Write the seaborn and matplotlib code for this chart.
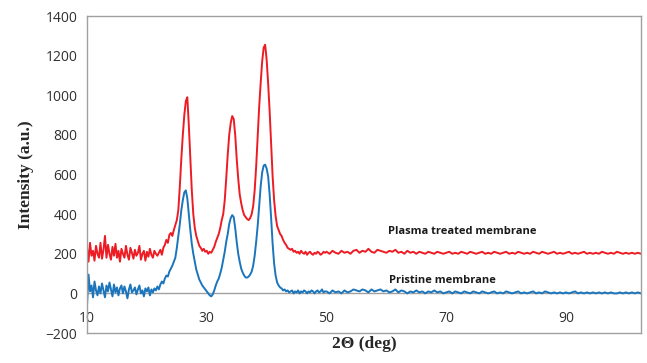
import numpy as np
import pandas as pd
import matplotlib
matplotlib.use("Agg")
import matplotlib.pyplot as plt
import seaborn as sns

# 2-theta grid: fine step over the peak region, coarser over the flat tail
theta_lo = np.linspace(10, 49.75, 160)   # step 0.25
theta_hi = np.linspace(50, 102.5, 106)   # step 0.5

# Plasma treated membrane, 10-50 deg (8 points per 2 deg)
plasma_lo = [
    230, 160, 255, 190, 215, 165, 240, 200,
    180, 255, 175, 220, 290, 180, 245, 200,
    170, 235, 190, 250, 180, 215, 160, 225,
    200, 180, 240, 195, 170, 230, 205, 175,
    220, 190, 205, 240, 170, 200, 215, 165,
    210, 185, 225, 195, 180, 215, 200, 190,
    205, 220, 195, 230, 245, 270, 255, 295,
    305, 290, 320, 345, 370, 420, 540, 680,
    800, 900, 970, 990, 850, 680, 520, 400,
    330, 290, 265, 240, 230, 215, 225, 210,
    215, 200, 210, 205, 220, 235, 260, 280,
    300, 330, 370, 400, 470, 580, 700, 800,
    860, 895, 880, 800, 680, 580, 500, 455,
    420, 395, 385, 375, 370, 380, 400, 440,
    520, 640, 790, 940, 1060, 1170, 1240, 1255,
    1180, 1060, 920, 760, 590, 470, 390, 340,
    320, 300, 290, 270, 255, 245, 230, 225,
    220, 225, 210, 215, 205, 210, 200, 215,
    205, 200, 210, 195, 205, 210, 200, 195,
    205, 200, 210, 205, 195, 200, 210, 205,
]
# Plasma treated membrane, 50-102.5 deg
plasma_hi = [
    210, 200, 215, 205, 200, 215, 205, 210, 200, 215,
    220, 205, 215, 210, 225, 210, 205, 220, 215, 210,
    205, 215, 210, 220, 205, 210, 200, 215, 205, 210,
    200, 210, 205, 200, 210, 205, 200, 210, 205, 200,
    205, 210, 200, 205, 200, 210, 205, 200, 210, 205,
    200, 205, 210, 200, 205, 200, 210, 205, 200, 205,
    210, 200, 205, 200, 210, 205, 200, 205, 200, 210,
    205, 200, 210, 205, 200, 205, 210, 200, 205, 200,
    205, 210, 200, 205, 200, 205, 210, 200, 205, 200,
    205, 200, 210, 205, 200, 205, 200, 210, 205, 200,
    205, 200, 205, 200, 205, 200,
]

# Pristine membrane, 10-50 deg
pristine_lo = [
    -60, 95, 10, 40, -20, 60, 15, -10,
    35, 0, 50, 15, -20, 40, 10, 55,
    20, -15, 45, 5, 30, -10, 25, 40,
    0, 35, 10, -25, 20, 45, 5, 15,
    30, -5, 20, 40, 0, 15, -15, 25,
    10, 30, -10, 20, 5, 25, 15, 35,
    20, 45, 60, 50, 75, 90, 85, 110,
    125, 140, 160, 180, 230, 290, 350, 420,
    470, 510, 520, 480, 400, 320, 250, 200,
    160, 120, 95, 70, 55, 40, 30, 20,
    10, 0, -10, -15, -5, 15, 40, 60,
    75, 100, 130, 170, 210, 260, 300, 350,
    380, 395, 385, 330, 260, 200, 160, 125,
    105, 90, 80, 80, 85, 95, 110, 140,
    190, 260, 340, 440, 540, 610, 645, 650,
    630, 590, 500, 380, 250, 150, 90, 55,
    40, 30, 25, 15, 20, 10, 15, 5,
    10, 15, 0, 10, 5, 15, 0, 10,
    5, 15, 10, 0, 10, 5, 15, 10,
    0, 10, 15, 5, 10, 20, 5, 10,
]
# Pristine membrane, 50-102.5 deg
pristine_hi = [
    10, 0, 15, 5, 10, 0, 15, 5, 10, 20,
    15, 10, 20, 15, 5, 20, 10, 15, 20, 10,
    15, 5, 10, 20, 5, 15, 10, 0, 10, 5,
    15, 5, 10, 0, 10, 5, 15, 5, 10, 0,
    5, 10, 0, 10, 5, 0, 10, 5, 0, 10,
    5, 0, 10, 5, 0, 5, 10, 0, 5, 0,
    10, 5, 0, 5, 10, 0, 5, 0, 5, 10,
    0, 5, 0, 10, 5, 0, 5, 0, 5, 0,
    5, 0, 5, 10, 0, 5, 0, 5, 0, 5,
    0, 5, 0, 5, 0, 5, 0, 0, 5, 0,
    5, 0, 5, 0, 5, 0,
]

x_ticks = [10, 30, 50, 70, 90]
y_ticks = [-200, 0, 200, 400, 600, 800, 1000, 1200, 1400]

theta = np.concatenate([theta_lo, theta_hi])
df = pd.concat([
    pd.DataFrame({"theta": theta, "intensity": plasma_lo + plasma_hi, "sample": "Plasma"}),
    pd.DataFrame({"theta": theta, "intensity": pristine_lo + pristine_hi, "sample": "Pristine"}),
])

sns.set_style("white")
plt.rcParams["font.family"] = ["Open Sans", "DejaVu Sans"]

fig = plt.figure(figsize=(6.47, 3.63), dpi=100)
ax = fig.add_axes([0.1345, 0.0826, 0.856, 0.8733])

sns.lineplot(data=df, x="theta", y="intensity", hue="sample",
             palette={"Plasma": "#ED1C24", "Pristine": "#1B75BC"},
             linewidth=1.4, errorbar=None, legend=False, ax=ax)

ax.set_xlim(10, 102.5)
ax.set_ylim(-200, 1400)
ax.set_xticks(x_ticks)
ax.set_yticks(y_ticks)

grey = "#A0A0A0"
for s in ax.spines.values():
    s.set_color(grey)
    s.set_linewidth(1.0)
# x axis crosses at zero, frame stays at -200
ax.axhline(0, color=grey, linewidth=1.0, zorder=0.5)
ax.tick_params(axis="y", length=4, color=grey, labelsize=10, labelcolor="#303030", pad=3)
ax.tick_params(axis="x", length=0, labelsize=10, labelcolor="#303030")
for lab in ax.get_xticklabels():
    lab.set_transform(lab.get_transform() + matplotlib.transforms.ScaledTranslation(0, 0.27, fig.dpi_scale_trans))

ax.set_xlabel("2Θ (deg)", family="Liberation Serif", fontweight="bold", fontsize=12.5, labelpad=2)
ax.set_ylabel("Intensity (a.u.)", family="Liberation Serif", fontweight="bold", fontsize=12.5, labelpad=8)

ax.text(60.2, 310, "Plasma treated membrane", fontsize=8, fontweight="bold", color="#1a1a1a", va="center")
ax.text(60.5, 66, "Pristine membrane", fontsize=8, fontweight="bold", color="#1a1a1a", va="center")

fig.savefig("out.png", dpi=100)
